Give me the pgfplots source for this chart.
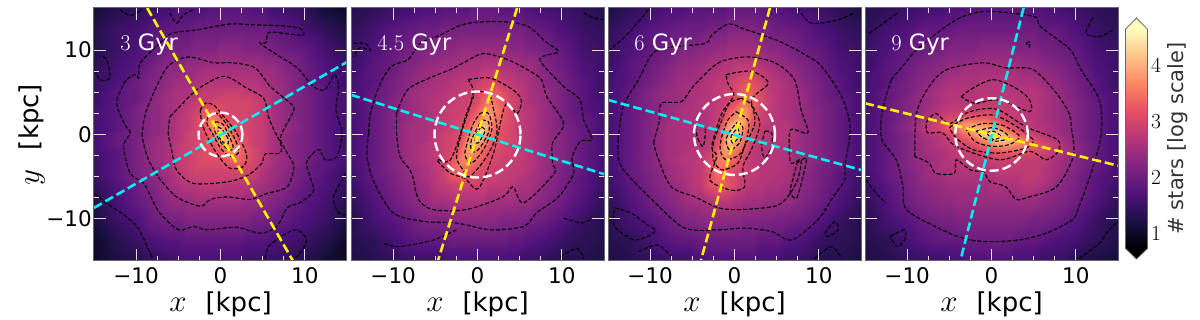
\RequirePackage{fix-cm}
\documentclass[border=0pt]{standalone}
\usepackage[no-math]{fontspec}
\setmainfont{DejaVu Sans}
\usepackage{pgfplots}
\usepackage{pgfplotstable}
\pgfplotsset{compat=1.18}
\newcommand\fs[1]{\fontsize{#1}{#1}\selectfont}
\definecolor{lineyellow}{rgb}{1,0.95,0}
\definecolor{linecyan}{rgb}{0,0.94,0.94}

% grid of the density maps (kpc), values are log10(# stars) x 10
\def\gx{{-15,-12.5,-10,-8,-6,-5,-4,-3,-2,-1.2,-0.6,0,0.6,1.2,2,3,4,5,6,8,10,12.5,15}}
\def\gy{{15,12.5,10,8,6,5,4,3,2,1.2,0.6,0,-0.6,-1.2,-2,-3,-4,-5,-6,-8,-10,-12.5,-15}}
\newcommand\addgrid[1]{%
  \pgfplotstablecreatecol[create col/assign/.code={%
    \pgfmathparse{\gx[int(mod(\pgfplotstablerow,23))]}%
    \pgfkeyslet{/pgfplots/table/create col/next content}\pgfmathresult}]{x}{#1}%
  \pgfplotstablecreatecol[create col/assign/.code={%
    \pgfmathparse{\gy[int(\pgfplotstablerow/23)]}%
    \pgfkeyslet{/pgfplots/table/create col/next content}\pgfmathresult}]{y}{#1}}

\pgfplotstableread[row sep=crcr]{z\\
11\\ 13\\ 14\\ 15\\ 16\\ 17\\ 17\\ 17\\ 17\\ 18\\ 18\\ 18\\ 18\\ 18\\ 18\\ 18\\ 17\\ 17\\ 16\\ 15\\ 14\\ 11\\ 10\\
13\\ 15\\ 16\\ 18\\ 19\\ 19\\ 19\\ 20\\ 20\\ 20\\ 20\\ 20\\ 20\\ 20\\ 20\\ 20\\ 20\\ 20\\ 19\\ 18\\ 16\\ 14\\ 12\\
13\\ 15\\ 17\\ 19\\ 21\\ 21\\ 21\\ 22\\ 22\\ 22\\ 22\\ 23\\ 23\\ 23\\ 23\\ 22\\ 22\\ 22\\ 21\\ 20\\ 19\\ 16\\ 14\\
14\\ 16\\ 18\\ 21\\ 23\\ 23\\ 24\\ 24\\ 25\\ 25\\ 25\\ 25\\ 25\\ 25\\ 25\\ 25\\ 25\\ 24\\ 24\\ 22\\ 20\\ 17\\ 15\\
15\\ 17\\ 20\\ 22\\ 24\\ 25\\ 25\\ 26\\ 27\\ 27\\ 27\\ 27\\ 27\\ 27\\ 27\\ 27\\ 27\\ 26\\ 25\\ 23\\ 20\\ 18\\ 15\\
15\\ 18\\ 20\\ 22\\ 25\\ 26\\ 26\\ 27\\ 28\\ 28\\ 28\\ 28\\ 29\\ 29\\ 29\\ 28\\ 28\\ 27\\ 26\\ 23\\ 21\\ 18\\ 16\\
15\\ 18\\ 20\\ 23\\ 25\\ 26\\ 27\\ 28\\ 29\\ 29\\ 30\\ 30\\ 30\\ 30\\ 30\\ 30\\ 29\\ 28\\ 26\\ 23\\ 21\\ 18\\ 16\\
16\\ 18\\ 21\\ 23\\ 25\\ 26\\ 28\\ 29\\ 31\\ 32\\ 32\\ 31\\ 30\\ 30\\ 30\\ 30\\ 29\\ 28\\ 26\\ 23\\ 21\\ 18\\ 16\\
16\\ 18\\ 21\\ 23\\ 25\\ 27\\ 28\\ 30\\ 33\\ 36\\ 35\\ 33\\ 32\\ 31\\ 30\\ 30\\ 29\\ 28\\ 26\\ 23\\ 21\\ 18\\ 16\\
16\\ 18\\ 21\\ 23\\ 25\\ 27\\ 28\\ 30\\ 32\\ 37\\ 39\\ 37\\ 34\\ 32\\ 31\\ 30\\ 29\\ 28\\ 26\\ 23\\ 21\\ 18\\ 16\\
16\\ 18\\ 21\\ 23\\ 25\\ 27\\ 28\\ 30\\ 31\\ 35\\ 39\\ 41\\ 37\\ 33\\ 31\\ 30\\ 29\\ 28\\ 26\\ 24\\ 21\\ 18\\ 16\\
16\\ 19\\ 21\\ 23\\ 25\\ 27\\ 29\\ 30\\ 31\\ 33\\ 37\\ 45\\ 40\\ 35\\ 32\\ 30\\ 29\\ 28\\ 26\\ 23\\ 21\\ 18\\ 15\\
16\\ 19\\ 21\\ 24\\ 26\\ 27\\ 29\\ 30\\ 31\\ 32\\ 34\\ 38\\ 41\\ 37\\ 32\\ 31\\ 29\\ 28\\ 26\\ 23\\ 21\\ 18\\ 15\\
16\\ 19\\ 21\\ 24\\ 26\\ 28\\ 29\\ 30\\ 31\\ 32\\ 32\\ 35\\ 39\\ 38\\ 34\\ 31\\ 29\\ 28\\ 26\\ 23\\ 21\\ 18\\ 15\\
16\\ 18\\ 21\\ 24\\ 26\\ 28\\ 29\\ 30\\ 31\\ 31\\ 32\\ 32\\ 35\\ 37\\ 35\\ 32\\ 30\\ 28\\ 26\\ 23\\ 21\\ 18\\ 16\\
15\\ 18\\ 21\\ 24\\ 26\\ 28\\ 29\\ 30\\ 31\\ 31\\ 31\\ 31\\ 32\\ 33\\ 34\\ 32\\ 30\\ 28\\ 26\\ 23\\ 21\\ 18\\ 16\\
15\\ 18\\ 21\\ 23\\ 26\\ 28\\ 29\\ 30\\ 30\\ 30\\ 30\\ 30\\ 30\\ 30\\ 31\\ 30\\ 29\\ 27\\ 25\\ 23\\ 20\\ 18\\ 15\\
15\\ 18\\ 21\\ 23\\ 25\\ 27\\ 28\\ 29\\ 29\\ 29\\ 29\\ 29\\ 29\\ 29\\ 29\\ 29\\ 28\\ 26\\ 25\\ 22\\ 20\\ 17\\ 15\\
14\\ 17\\ 20\\ 22\\ 25\\ 26\\ 27\\ 27\\ 28\\ 28\\ 28\\ 28\\ 27\\ 27\\ 27\\ 27\\ 26\\ 25\\ 24\\ 22\\ 19\\ 17\\ 14\\
13\\ 16\\ 19\\ 21\\ 23\\ 24\\ 24\\ 25\\ 25\\ 25\\ 25\\ 25\\ 25\\ 25\\ 25\\ 24\\ 24\\ 23\\ 22\\ 20\\ 18\\ 16\\ 13\\
12\\ 15\\ 17\\ 20\\ 21\\ 21\\ 22\\ 22\\ 22\\ 22\\ 22\\ 22\\ 22\\ 22\\ 22\\ 22\\ 21\\ 21\\ 20\\ 19\\ 17\\ 15\\ 12\\
10\\ 13\\ 15\\ 17\\ 18\\ 18\\ 19\\ 19\\ 19\\ 19\\ 19\\ 19\\ 19\\ 19\\ 19\\ 18\\ 18\\ 18\\ 17\\ 16\\ 15\\ 13\\ 10\\
10\\ 12\\ 13\\ 14\\ 15\\ 16\\ 16\\ 16\\ 16\\ 16\\ 16\\ 16\\ 16\\ 16\\ 16\\ 15\\ 15\\ 15\\ 15\\ 14\\ 13\\ 11\\ 10\\
}\mapA

\pgfplotstableread[row sep=crcr]{z\\
13\\ 14\\ 15\\ 16\\ 17\\ 17\\ 18\\ 18\\ 18\\ 18\\ 19\\ 19\\ 19\\ 19\\ 19\\ 18\\ 18\\ 18\\ 17\\ 16\\ 15\\ 14\\ 13\\
14\\ 16\\ 18\\ 19\\ 20\\ 20\\ 21\\ 21\\ 21\\ 21\\ 21\\ 21\\ 21\\ 21\\ 21\\ 21\\ 21\\ 21\\ 20\\ 19\\ 17\\ 15\\ 14\\
15\\ 17\\ 19\\ 21\\ 22\\ 22\\ 23\\ 23\\ 24\\ 24\\ 24\\ 24\\ 24\\ 24\\ 24\\ 24\\ 23\\ 23\\ 22\\ 21\\ 19\\ 16\\ 15\\
15\\ 18\\ 20\\ 22\\ 24\\ 24\\ 25\\ 25\\ 26\\ 26\\ 26\\ 26\\ 27\\ 27\\ 27\\ 26\\ 26\\ 25\\ 25\\ 22\\ 20\\ 17\\ 15\\
16\\ 18\\ 21\\ 23\\ 25\\ 26\\ 26\\ 27\\ 28\\ 28\\ 28\\ 29\\ 30\\ 30\\ 31\\ 29\\ 28\\ 27\\ 26\\ 23\\ 21\\ 18\\ 15\\
16\\ 19\\ 21\\ 24\\ 26\\ 26\\ 27\\ 28\\ 28\\ 29\\ 29\\ 30\\ 32\\ 33\\ 33\\ 31\\ 29\\ 28\\ 26\\ 24\\ 21\\ 18\\ 15\\
16\\ 19\\ 22\\ 24\\ 26\\ 27\\ 27\\ 28\\ 29\\ 29\\ 30\\ 31\\ 33\\ 35\\ 35\\ 32\\ 30\\ 28\\ 26\\ 24\\ 21\\ 18\\ 16\\
16\\ 19\\ 22\\ 24\\ 26\\ 27\\ 28\\ 29\\ 29\\ 30\\ 31\\ 33\\ 35\\ 37\\ 36\\ 33\\ 30\\ 28\\ 27\\ 24\\ 21\\ 18\\ 16\\
16\\ 19\\ 22\\ 24\\ 26\\ 27\\ 28\\ 29\\ 30\\ 31\\ 33\\ 35\\ 38\\ 39\\ 36\\ 32\\ 30\\ 28\\ 27\\ 24\\ 21\\ 19\\ 16\\
16\\ 19\\ 22\\ 25\\ 26\\ 27\\ 28\\ 29\\ 30\\ 32\\ 35\\ 38\\ 40\\ 39\\ 35\\ 32\\ 30\\ 28\\ 27\\ 24\\ 21\\ 19\\ 16\\
16\\ 19\\ 22\\ 25\\ 26\\ 27\\ 28\\ 29\\ 31\\ 33\\ 37\\ 41\\ 43\\ 38\\ 34\\ 31\\ 30\\ 28\\ 27\\ 24\\ 22\\ 19\\ 16\\
16\\ 19\\ 22\\ 25\\ 26\\ 28\\ 29\\ 30\\ 31\\ 34\\ 39\\ 45\\ 41\\ 36\\ 33\\ 31\\ 30\\ 28\\ 27\\ 24\\ 22\\ 19\\ 16\\
16\\ 19\\ 22\\ 25\\ 26\\ 28\\ 29\\ 30\\ 32\\ 36\\ 41\\ 42\\ 38\\ 35\\ 32\\ 31\\ 30\\ 28\\ 27\\ 24\\ 22\\ 19\\ 16\\
16\\ 19\\ 22\\ 25\\ 27\\ 28\\ 29\\ 30\\ 33\\ 38\\ 40\\ 38\\ 35\\ 33\\ 32\\ 30\\ 29\\ 28\\ 27\\ 24\\ 22\\ 19\\ 16\\
16\\ 19\\ 22\\ 25\\ 27\\ 28\\ 29\\ 31\\ 34\\ 38\\ 38\\ 36\\ 34\\ 32\\ 31\\ 30\\ 29\\ 28\\ 27\\ 24\\ 22\\ 19\\ 16\\
16\\ 19\\ 22\\ 25\\ 27\\ 28\\ 29\\ 32\\ 36\\ 36\\ 35\\ 34\\ 32\\ 31\\ 30\\ 29\\ 29\\ 28\\ 27\\ 24\\ 22\\ 19\\ 16\\
16\\ 19\\ 22\\ 24\\ 26\\ 28\\ 29\\ 33\\ 35\\ 34\\ 33\\ 32\\ 31\\ 30\\ 29\\ 29\\ 28\\ 28\\ 27\\ 24\\ 21\\ 19\\ 16\\
15\\ 19\\ 21\\ 24\\ 26\\ 27\\ 29\\ 32\\ 33\\ 32\\ 31\\ 30\\ 30\\ 29\\ 29\\ 28\\ 28\\ 27\\ 26\\ 24\\ 21\\ 18\\ 15\\
15\\ 18\\ 21\\ 23\\ 25\\ 27\\ 28\\ 29\\ 30\\ 29\\ 29\\ 29\\ 29\\ 28\\ 28\\ 28\\ 27\\ 26\\ 26\\ 23\\ 21\\ 18\\ 15\\
14\\ 17\\ 20\\ 22\\ 24\\ 25\\ 25\\ 26\\ 26\\ 26\\ 26\\ 26\\ 26\\ 25\\ 25\\ 25\\ 25\\ 24\\ 24\\ 22\\ 20\\ 17\\ 14\\
13\\ 16\\ 18\\ 20\\ 22\\ 22\\ 22\\ 23\\ 23\\ 23\\ 23\\ 23\\ 23\\ 23\\ 23\\ 22\\ 22\\ 22\\ 21\\ 20\\ 18\\ 15\\ 13\\
13\\ 14\\ 16\\ 18\\ 19\\ 19\\ 19\\ 20\\ 20\\ 20\\ 20\\ 20\\ 20\\ 20\\ 20\\ 20\\ 19\\ 19\\ 18\\ 17\\ 15\\ 14\\ 13\\
12\\ 13\\ 14\\ 15\\ 15\\ 15\\ 16\\ 16\\ 16\\ 16\\ 16\\ 16\\ 16\\ 16\\ 16\\ 16\\ 16\\ 15\\ 15\\ 14\\ 13\\ 13\\ 12\\
}\mapB

\pgfplotstableread[row sep=crcr]{z\\
12\\ 14\\ 15\\ 17\\ 17\\ 18\\ 18\\ 18\\ 18\\ 18\\ 19\\ 19\\ 19\\ 19\\ 19\\ 19\\ 18\\ 18\\ 17\\ 16\\ 15\\ 14\\ 12\\
14\\ 16\\ 18\\ 19\\ 20\\ 20\\ 20\\ 21\\ 21\\ 21\\ 22\\ 22\\ 22\\ 22\\ 22\\ 21\\ 21\\ 20\\ 20\\ 19\\ 17\\ 15\\ 14\\
15\\ 17\\ 19\\ 20\\ 22\\ 22\\ 23\\ 23\\ 24\\ 24\\ 25\\ 25\\ 25\\ 25\\ 25\\ 24\\ 23\\ 23\\ 22\\ 20\\ 19\\ 16\\ 15\\
15\\ 18\\ 20\\ 22\\ 24\\ 24\\ 25\\ 26\\ 26\\ 27\\ 27\\ 28\\ 28\\ 28\\ 28\\ 27\\ 26\\ 25\\ 24\\ 22\\ 20\\ 17\\ 15\\
16\\ 18\\ 21\\ 23\\ 25\\ 25\\ 26\\ 27\\ 28\\ 28\\ 29\\ 30\\ 31\\ 32\\ 32\\ 30\\ 28\\ 27\\ 26\\ 23\\ 21\\ 18\\ 15\\
16\\ 19\\ 22\\ 24\\ 25\\ 26\\ 26\\ 27\\ 28\\ 29\\ 29\\ 30\\ 32\\ 33\\ 33\\ 31\\ 28\\ 27\\ 26\\ 24\\ 21\\ 18\\ 16\\
16\\ 19\\ 22\\ 24\\ 25\\ 26\\ 27\\ 27\\ 28\\ 29\\ 30\\ 31\\ 33\\ 34\\ 33\\ 31\\ 29\\ 27\\ 26\\ 24\\ 21\\ 19\\ 16\\
16\\ 19\\ 22\\ 24\\ 26\\ 26\\ 27\\ 27\\ 28\\ 30\\ 32\\ 34\\ 36\\ 37\\ 34\\ 30\\ 28\\ 27\\ 26\\ 24\\ 22\\ 19\\ 16\\
16\\ 19\\ 22\\ 24\\ 26\\ 26\\ 26\\ 27\\ 29\\ 32\\ 35\\ 37\\ 39\\ 38\\ 33\\ 29\\ 28\\ 27\\ 26\\ 24\\ 22\\ 19\\ 16\\
16\\ 19\\ 22\\ 25\\ 26\\ 26\\ 26\\ 27\\ 29\\ 34\\ 38\\ 41\\ 41\\ 37\\ 32\\ 29\\ 27\\ 27\\ 27\\ 24\\ 22\\ 19\\ 16\\
16\\ 19\\ 22\\ 25\\ 26\\ 26\\ 26\\ 27\\ 30\\ 36\\ 40\\ 43\\ 41\\ 36\\ 31\\ 28\\ 27\\ 27\\ 27\\ 24\\ 22\\ 19\\ 16\\
16\\ 19\\ 22\\ 25\\ 26\\ 26\\ 27\\ 27\\ 30\\ 37\\ 41\\ 45\\ 39\\ 35\\ 31\\ 28\\ 27\\ 27\\ 27\\ 24\\ 22\\ 19\\ 16\\
16\\ 19\\ 22\\ 25\\ 26\\ 26\\ 27\\ 28\\ 31\\ 38\\ 42\\ 41\\ 37\\ 34\\ 30\\ 28\\ 27\\ 27\\ 27\\ 24\\ 22\\ 19\\ 16\\
16\\ 19\\ 22\\ 25\\ 26\\ 27\\ 27\\ 28\\ 32\\ 38\\ 40\\ 38\\ 35\\ 32\\ 29\\ 27\\ 27\\ 27\\ 26\\ 24\\ 22\\ 19\\ 16\\
16\\ 19\\ 22\\ 25\\ 26\\ 27\\ 27\\ 29\\ 34\\ 38\\ 37\\ 35\\ 33\\ 31\\ 28\\ 27\\ 27\\ 27\\ 26\\ 24\\ 22\\ 19\\ 16\\
16\\ 19\\ 22\\ 25\\ 27\\ 27\\ 28\\ 30\\ 35\\ 36\\ 34\\ 33\\ 31\\ 29\\ 28\\ 27\\ 27\\ 27\\ 26\\ 24\\ 22\\ 19\\ 16\\
16\\ 19\\ 22\\ 24\\ 26\\ 27\\ 28\\ 31\\ 35\\ 34\\ 32\\ 31\\ 30\\ 29\\ 28\\ 27\\ 27\\ 27\\ 26\\ 24\\ 21\\ 19\\ 16\\
15\\ 19\\ 21\\ 24\\ 26\\ 27\\ 28\\ 31\\ 34\\ 33\\ 31\\ 30\\ 29\\ 28\\ 28\\ 27\\ 27\\ 26\\ 26\\ 23\\ 21\\ 18\\ 15\\
15\\ 18\\ 21\\ 23\\ 25\\ 27\\ 28\\ 31\\ 33\\ 33\\ 32\\ 30\\ 29\\ 28\\ 27\\ 27\\ 26\\ 26\\ 25\\ 23\\ 21\\ 18\\ 15\\
14\\ 17\\ 20\\ 22\\ 24\\ 25\\ 25\\ 26\\ 27\\ 27\\ 27\\ 26\\ 26\\ 25\\ 25\\ 25\\ 24\\ 24\\ 24\\ 22\\ 20\\ 17\\ 14\\
13\\ 16\\ 18\\ 20\\ 22\\ 22\\ 23\\ 23\\ 23\\ 23\\ 23\\ 23\\ 23\\ 22\\ 22\\ 22\\ 22\\ 21\\ 21\\ 20\\ 18\\ 15\\ 13\\
13\\ 14\\ 16\\ 18\\ 19\\ 19\\ 20\\ 20\\ 20\\ 20\\ 20\\ 20\\ 20\\ 20\\ 20\\ 19\\ 19\\ 19\\ 18\\ 17\\ 15\\ 14\\ 13\\
12\\ 13\\ 14\\ 15\\ 15\\ 16\\ 16\\ 17\\ 17\\ 17\\ 17\\ 17\\ 17\\ 17\\ 17\\ 16\\ 16\\ 16\\ 15\\ 15\\ 13\\ 13\\ 12\\
}\mapC

\pgfplotstableread[row sep=crcr]{z\\
13\\ 14\\ 15\\ 16\\ 16\\ 17\\ 17\\ 17\\ 18\\ 18\\ 18\\ 18\\ 18\\ 18\\ 18\\ 18\\ 18\\ 17\\ 17\\ 16\\ 15\\ 14\\ 13\\
14\\ 16\\ 17\\ 19\\ 19\\ 19\\ 20\\ 20\\ 20\\ 20\\ 20\\ 20\\ 20\\ 20\\ 20\\ 20\\ 20\\ 20\\ 19\\ 19\\ 17\\ 15\\ 14\\
15\\ 17\\ 19\\ 20\\ 21\\ 22\\ 22\\ 22\\ 22\\ 23\\ 23\\ 23\\ 23\\ 23\\ 23\\ 22\\ 22\\ 22\\ 21\\ 20\\ 19\\ 16\\ 15\\
15\\ 18\\ 20\\ 22\\ 23\\ 24\\ 24\\ 25\\ 25\\ 25\\ 25\\ 25\\ 25\\ 25\\ 25\\ 25\\ 24\\ 24\\ 23\\ 22\\ 20\\ 17\\ 15\\
16\\ 18\\ 21\\ 23\\ 25\\ 26\\ 26\\ 26\\ 26\\ 27\\ 27\\ 27\\ 27\\ 27\\ 27\\ 26\\ 26\\ 26\\ 25\\ 23\\ 21\\ 18\\ 15\\
16\\ 19\\ 21\\ 24\\ 26\\ 27\\ 27\\ 27\\ 27\\ 27\\ 27\\ 27\\ 27\\ 27\\ 27\\ 27\\ 27\\ 27\\ 26\\ 24\\ 21\\ 18\\ 16\\
16\\ 19\\ 22\\ 24\\ 26\\ 27\\ 27\\ 27\\ 27\\ 28\\ 28\\ 28\\ 28\\ 28\\ 28\\ 27\\ 27\\ 27\\ 26\\ 24\\ 22\\ 19\\ 16\\
16\\ 19\\ 22\\ 24\\ 27\\ 28\\ 28\\ 28\\ 28\\ 29\\ 29\\ 29\\ 29\\ 29\\ 28\\ 28\\ 27\\ 27\\ 26\\ 24\\ 22\\ 19\\ 16\\
16\\ 19\\ 22\\ 25\\ 29\\ 30\\ 31\\ 33\\ 33\\ 33\\ 33\\ 32\\ 31\\ 30\\ 29\\ 28\\ 27\\ 27\\ 26\\ 24\\ 22\\ 19\\ 16\\
16\\ 19\\ 23\\ 27\\ 30\\ 33\\ 36\\ 38\\ 38\\ 38\\ 37\\ 36\\ 35\\ 33\\ 31\\ 29\\ 28\\ 27\\ 26\\ 24\\ 22\\ 19\\ 16\\
16\\ 19\\ 23\\ 27\\ 30\\ 32\\ 35\\ 38\\ 41\\ 41\\ 41\\ 41\\ 39\\ 37\\ 33\\ 30\\ 28\\ 27\\ 27\\ 24\\ 22\\ 19\\ 16\\
16\\ 19\\ 22\\ 26\\ 28\\ 30\\ 32\\ 35\\ 38\\ 41\\ 43\\ 46\\ 44\\ 41\\ 38\\ 34\\ 31\\ 29\\ 27\\ 25\\ 22\\ 19\\ 16\\
16\\ 19\\ 22\\ 25\\ 27\\ 28\\ 30\\ 32\\ 34\\ 36\\ 38\\ 41\\ 42\\ 42\\ 41\\ 38\\ 35\\ 31\\ 29\\ 26\\ 22\\ 19\\ 16\\
16\\ 19\\ 22\\ 25\\ 27\\ 28\\ 29\\ 30\\ 31\\ 33\\ 34\\ 36\\ 38\\ 38\\ 38\\ 37\\ 35\\ 33\\ 31\\ 27\\ 23\\ 19\\ 16\\
16\\ 19\\ 22\\ 25\\ 26\\ 27\\ 28\\ 29\\ 29\\ 30\\ 31\\ 31\\ 32\\ 33\\ 33\\ 33\\ 31\\ 31\\ 30\\ 27\\ 23\\ 19\\ 16\\
16\\ 19\\ 22\\ 24\\ 26\\ 27\\ 27\\ 28\\ 28\\ 28\\ 28\\ 29\\ 29\\ 29\\ 29\\ 29\\ 28\\ 28\\ 28\\ 25\\ 22\\ 19\\ 16\\
16\\ 19\\ 22\\ 24\\ 26\\ 26\\ 27\\ 27\\ 27\\ 27\\ 27\\ 27\\ 28\\ 28\\ 28\\ 28\\ 28\\ 28\\ 27\\ 25\\ 22\\ 19\\ 16\\
15\\ 19\\ 21\\ 24\\ 25\\ 26\\ 26\\ 26\\ 26\\ 26\\ 26\\ 26\\ 27\\ 27\\ 27\\ 27\\ 28\\ 28\\ 27\\ 24\\ 21\\ 18\\ 16\\
15\\ 18\\ 21\\ 23\\ 24\\ 25\\ 25\\ 25\\ 25\\ 25\\ 25\\ 26\\ 26\\ 26\\ 26\\ 26\\ 27\\ 27\\ 26\\ 23\\ 21\\ 18\\ 15\\
14\\ 17\\ 20\\ 22\\ 23\\ 23\\ 24\\ 24\\ 24\\ 24\\ 24\\ 24\\ 24\\ 24\\ 24\\ 24\\ 24\\ 24\\ 23\\ 22\\ 20\\ 17\\ 14\\
13\\ 16\\ 18\\ 20\\ 21\\ 21\\ 22\\ 22\\ 22\\ 22\\ 22\\ 22\\ 22\\ 22\\ 22\\ 22\\ 22\\ 21\\ 21\\ 20\\ 18\\ 15\\ 13\\
13\\ 14\\ 16\\ 18\\ 19\\ 19\\ 19\\ 20\\ 20\\ 20\\ 20\\ 20\\ 20\\ 20\\ 20\\ 19\\ 19\\ 19\\ 18\\ 17\\ 16\\ 14\\ 13\\
12\\ 13\\ 14\\ 15\\ 15\\ 16\\ 16\\ 17\\ 17\\ 17\\ 17\\ 17\\ 17\\ 17\\ 17\\ 16\\ 16\\ 16\\ 15\\ 15\\ 13\\ 12\\ 11\\
}\mapD

\addgrid{\mapA}
\addgrid{\mapB}
\addgrid{\mapC}
\addgrid{\mapD}

\tikzset{ring/.style={white, line width=2.4pt, dash pattern=on 9pt off 4pt}}
\pgfplotsset{
  colormap={mgm}{
    rgb255=(0,0,4) rgb255=(28,16,68) rgb255=(79,18,123) rgb255=(129,37,129)
    rgb255=(181,54,122) rgb255=(229,80,100) rgb255=(251,135,97) rgb255=(254,194,135)
    rgb255=(252,253,191)},
  panel/.style={
    scale only axis, width=253pt, height=253pt,
    anchor=south west,
    xmin=-15, xmax=15, ymin=-15, ymax=15,
    colormap name=mgm, point meta min=7.3, point meta max=46.4,
    axis on top,
    axis line style={black!60, line width=1pt},
    xtick={-10,0,10}, xticklabels={−10,0,10},
    ytick={-10,0,10}, yticklabels={},
    minor tick num=3,
    tick align=inside,
    major tick length=12pt, minor tick length=5pt,
    every tick/.style={white, opacity=0.85, line width=1pt},
    tick label style={font=\fs{21.5}, inner sep=2pt},
    xticklabel style={yshift=-4pt},
    xlabel={{\fs{31}$x$}\hspace{19pt}[kpc]},
    xlabel style={font=\fs{26}, yshift=-3pt},
  },
  heat/.style={surf, shader=interp, mesh/cols=23, mesh/ordering=x varies, point meta=explicit},
  cont/.style={black, line width=1.1pt, dash pattern=on 4pt off 2pt, smooth, tension=0.5},
  axisline/.style={line width=2.6pt, dash pattern=on 9pt off 4pt},
}
\newcommand\plab[1]{\node[white, anchor=west, font=\fs{22.5}, inner sep=0pt] at (axis cs:-11.9,10.7) {#1};}

\begin{document}
\begin{tikzpicture}
\path[use as bounding box] (0,0) rectangle (1200pt,320pt);

% 3 Gyr
\begin{axis}[panel, at={(94pt,59pt)},
  yticklabels={−10,0,10}, ylabel={{\fs{31}$y$}\hspace{19pt}[kpc]},
  ylabel style={font=\fs{26}, yshift=-4pt}]
\addplot[heat] table[x=x, y=y, meta=z] {\mapA};
\addplot[cont] coordinates {(-7.2,10.8)(-5.8,12)(-2.8,12.4)(1.1,13.1)(3.9,13)(7.1,12.9)(9.4,12.6)(9.8,11.8)(7.5,12)(5.7,12.1)(5.4,10.9)(4.7,10.8)(7.1,9.2)(9.1,7.9)(11,5.7)(12.4,5.3)(13.5,7.1)(14,5.7)(13.7,2.9)(14.4,0.2)(13.8,-2.6)(12.4,-3)(11.8,-1.8)(11,-2.2)(10.2,-3.4)(10.8,-5.6)(11,-6.8)(9.4,-8.1)(7.9,-8.7)(6.7,-10.9)(4.7,-11.7)(1.9,-11)(-1.6,-11.3)(-3.2,-10.9)(-5,-11.3)(-7.2,-9.3)(-8.1,-7.7)(-9.1,-5.8)(-10.7,-4.6)(-11.5,-1.4)(-10.7,0.2)(-11.3,1.1)(-12.3,3.7)(-11.3,6.3)(-10.1,7.1)(-9.7,6.7)(-9.5,8.5)(-7.2,10.8)};
\addplot[cont] coordinates {(-9.3,-0.2)(-8.9,2.5)(-7.2,6.5)(-6,8.3)(-3.8,9.2)(-0.8,8.5)(1.5,8.5)(4.1,7.9)(5.9,5.7)(8.3,3.7)(8.7,2.9)(7.5,0.6)(7.1,-0.6)(7.9,-2.2)(8.7,-3.8)(7.9,-6.2)(5.5,-7)(3.5,-7.7)(0.8,-7.4)(-1.2,-7.7)(-2.4,-8.5)(-5.2,-7.4)(-7.4,-5)(-8.7,-2.6)(-9.3,-0.2)};
\addplot[cont] coordinates {(-6,2.1)(-5.6,2.5)(-2.8,5.3)(0.4,6.9)(3.1,5.5)(5.1,4.3)(5.7,2.1)(6.3,0.6)(7.1,-1)(7.1,-2.2)(5.3,-2.3)(4.9,-3.4)(3.3,-4.8)(0.9,-5.6)(-3.2,-5.8)(-5.2,-4.2)(-5.8,-1.8)(-6.2,0.2)(-6,2.1)};
\addplot[cont] coordinates {(-2.4,2.9)(-1.8,3.7)(-0.8,3.5)(0.4,2.1)(1.9,0.2)(3.1,-2.4)(2.7,-3.8)(1.1,-4)(-0.2,-2.6)(-1.4,-0.6)(-2.2,1.3)(-2.4,2.9)};
\addplot[cont] coordinates {(-1.4,2.3)(-0.4,2.5)(0.8,1.1)(1.9,-1)(2.1,-2.2)(1.1,-2.6)(0,-1.6)(-1,0.2)(-1.6,1.3)(-1.4,2.3)};
\addplot[cont] coordinates {(-0.6,1.5)(0.3,1.2)(1.3,-0.8)(1.5,-1.7)(0.9,-1.8)(0,-0.9)(-0.7,0.5)(-0.6,1.5)};
\addplot[cont] coordinates {(-0.3,0.9)(0.2,0.6)(0.9,-0.5)(0.9,-1.1)(0.4,-1)(-0.2,-0.2)(-0.3,0.9)};
\addplot[cont] coordinates {(-14.9,7.7)(-14.3,6.5)(-13.1,6.7)(-13.5,8.9)(-14.3,9.3)};
\addplot[cont] coordinates {(-11.9,14.8)(-10.7,14.1)(-9.3,14.8)};
\addplot[cont] coordinates {(-6,14.4)(-5.2,13.2)(-4.4,14.2)(-3.2,14.8)};
\addplot[cont] coordinates {(5.3,-14.7)(5.7,-13.3)(7.5,-11.9)(9.1,-11.3)(10.2,-12.5)(9.4,-14.1)(8.7,-14.7)};
\addplot[cont] coordinates {(-14.9,-7)(-13,-8.5)(-11.5,-9.5)(-9.9,-10.9)(-9,-12.6)(-8,-14.8)};
\addplot[cont] coordinates {(14.9,-4.6)(13.4,-7.4)(14,-9.3)(14.9,-9.5)};
\addplot[axisline, lineyellow] coordinates {(-8.7,15)(8.6,-15)};
\addplot[axisline, linecyan] coordinates {(-15,-8.7)(15,8.6)};
\draw[ring] (axis cs:0,0) circle[radius=2.6];
\plab{$3$ Gyr}
\end{axis}

% 4.5 Gyr
\begin{axis}[panel, at={(351pt,59pt)}]
\addplot[heat] table[x=x, y=y, meta=z] {\mapB};
\addplot[cont] coordinates {(-12.9,0.2)(-12.7,2.5)(-11.6,5.9)(-10.2,8.1)(-8.2,8.9)(-6.8,10.8)(-4.4,11.8)(-1.5,13.1)(2.3,13.4)(5.8,12.9)(8.2,10.9)(9.6,9.8)(7.4,8.9)(10.2,5.7)(12.1,4.2)(12.6,1.7)(13.6,-0.6)(12.2,-0.8)(11.2,-2.8)(11.4,-4.6)(9.6,-7.4)(7,-9.3)(5.5,-10.9)(1.5,-11.3)(-2.5,-10.5)(-6.4,-10.3)(-10,-9.3)(-12.3,-5.6)(-13.1,-2.6)(-12.9,0.2)};
\addplot[cont] coordinates {(-9.6,2.5)(-8.3,5.3)(-5.7,6.7)(-3.2,7.7)(-1.3,8.7)(0.7,9.6)(3.5,8.9)(5.9,7.7)(7.6,6.5)(8.2,4.5)(10.2,1.3)(8.9,-1)(8.9,-3.4)(9.1,-4.6)(5.5,-8.1)(4.2,-6.2)(3,-7.4)(-1.3,-8.9)(-5.3,-8.9)(-7,-7.7)(-7.6,-5.3)(-8,-4.2)(-9.2,-2.6)(-9.6,0.2)(-9.6,2.5)};
\addplot[cont] coordinates {(-1.1,6.5)(1.5,6.7)(4.2,5.3)(5.2,4.1)(4.7,2.5)(3.3,3.5)(1.9,-2.2)(0.1,-6.4)(-1.5,-5.2)(-3.2,-4.6)(-4.8,-3)(-3.4,-3.2)(-2.5,-1.4)(-1.3,2.5)(-0.4,4.9)(-1.1,6.5)};
\addplot[cont] coordinates {(-0.5,5.1)(1.3,4.9)(1.9,3)(2.3,0.2)(1.1,-2.6)(-0.9,-5)(-1.7,-4.2)(-2.5,-2.6)(-1.7,0.9)(-0.9,3.3)(-0.5,5.1)};
\addplot[cont] coordinates {(0.3,2.5)(1.3,2.5)(1.7,0.6)(0.7,-1.8)(-0.7,-3.4)(-1.5,-2.4)(-1.1,-0.6)(-0.5,1.3)(0.3,2.5)};
\addplot[cont] coordinates {(0.5,1.7)(1.3,1.5)(1.3,0.2)(0.1,-1.8)(-0.7,-2)(-0.7,-0.6)(0.5,1.7)};
\addplot[cont] coordinates {(0.5,0.9)(0.9,0.4)(0.1,-1)(-0.3,-0.8)(-0.1,0.2)(0.5,0.9)};
\addplot[cont] coordinates {(-14.7,10.8)(-13.3,10.8)(-12.7,10)(-13.9,10.3)(-14.7,9.2)};
\addplot[cont] coordinates {(-11.1,-12.9)(-9.2,-13.3)(-5.2,-12.5)(-2.5,-11.3)};
\addplot[cont] coordinates {(12.6,14.4)(13.8,13.8)(14.9,13.6)};
\addplot[cont] coordinates {(10.2,-9.9)(12.2,-10.5)(13.4,-10.1)};
\addplot[cont] coordinates {(9.8,-14.5)(11.8,-13.5)(12.6,-14.7)};
\addplot[axisline, lineyellow] coordinates {(4.7,15)(-4.7,-15)};
\addplot[axisline, linecyan] coordinates {(-15,4.7)(15,-4.7)};
\draw[ring] (axis cs:0,0) circle[radius=5.1];
\plab{$4.5$ Gyr}
\end{axis}

% 6 Gyr
\begin{axis}[panel, at={(608pt,59pt)}]
\addplot[heat] table[x=x, y=y, meta=z] {\mapC};
\addplot[cont] coordinates {(-13.8,-0.6)(-13.2,3.3)(-11.4,6.5)(-9.8,9.5)(-8,10.3)(-3.5,10.8)(-2.7,11.8)(-0.7,13.1)(1.2,12.5)(5.2,11.1)(8.3,9.5)(10.3,8.1)(12.7,4.5)(13.7,0.9)(13.1,-3.8)(13.1,-5.3)(11.5,-7.7)(9.9,-10.1)(6.8,-12.5)(4.4,-11.5)(1.2,-11.1)(-1.9,-11.3)(-5.9,-11.1)(-9.4,-8.1)(-13,-4.4)(-13.8,-2.6)(-13.8,-0.6)};
\addplot[cont] coordinates {(-9.6,-1)(-8.9,1.7)(-8.7,3.7)(-6.3,3.9)(-4.9,5.7)(-1.9,8.5)(1.6,9.2)(4.8,8.5)(7.1,6.5)(7.9,2.9)(8.7,0.2)(6.7,0.6)(6.5,-1.4)(6.7,-3.4)(7.9,-3)(7.5,-5.3)(6.3,-7.4)(4.8,-8.5)(0.8,-8.9)(-1.9,-8.7)(-4.7,-7.4)(-7.5,-6.2)(-9,-3)(-9.6,-1)};
\addplot[cont] coordinates {(-1,7.1)(2,7.5)(4,6.1)(2,4.1)(3,1.3)(2,-1.8)(1,-3.8)(1.2,-6.2)(-0.4,-6.6)(-2.9,-5.4)(-2.1,-2.6)(-2.7,-1.4)(-1.5,2.5)(-0.1,4.6)(-0.8,6.1)(-1,7.1)};
\addplot[cont] coordinates {(0.8,4.3)(2,3.5)(2.4,1.3)(1.2,-1.4)(0.4,-3.4)(-1.5,-4.2)(-2.5,-3)(-2.5,-1)(-1.5,1.7)(-0.6,3.7)(0.8,4.3)};
\addplot[cont] coordinates {(0.2,2.7)(1.6,1.7)(1.6,0.2)(0.8,-2.2)(-1,-3)(-1.7,-1.8)(-1.5,-0.2)(-0.8,1.7)(0.2,2.7)};
\addplot[cont] coordinates {(0.4,1.5)(1,0.8)(0.6,-1)(-0.6,-1.8)(-1,-0.6)(-0.4,0.6)(0.4,1.5)};
\addplot[cont] coordinates {(0.4,0.8)(0.6,-0.2)(-0.2,-1)(-0.4,-0.2)(0.4,0.8)};
\addplot[cont] coordinates {(3.6,0.4)(4.4,0.2)(4.4,-1.4)(3.6,-2.8)(3.2,-1.4)(3.6,0.4)};
\addplot[cont] coordinates {(-4.7,1.1)(-3.5,0.8)(-3.7,-1.4)(-4.3,-0.6)(-4.7,1.1)};
\addplot[cont] coordinates {(7.4,-3.4)(8.5,-2.8)(8.3,-4.2)(7.4,-7.5)(6.6,-6.8)(7,-5)(7.4,-3.4)};
\addplot[cont] coordinates {(-14.2,-8.7)(-12.3,-9.3)(-10.6,-10.5)(-9.4,-11.5)(-11.8,-12.5)(-14.2,-10.9)(-14.2,-8.7)};
\addplot[cont] coordinates {(10.7,-11.7)(11.9,-10.3)(12.3,-11.3)(11.1,-12.1)(10.7,-11.7)};
\addplot[cont] coordinates {(-10.2,14.8)(-12.6,12)(-14.8,10)};
\addplot[cont] coordinates {(7.5,15)(9.1,13.2)(12.3,13.6)(14.1,14.4)};
\addplot[cont] coordinates {(9.5,-14.7)(11.5,-13.3)(12.7,-14.7)};
\addplot[cont] coordinates {(-11.4,-13.9)(-9.1,-13.1)(-7.5,-14.5)};
\addplot[axisline, lineyellow] coordinates {(4.2,15)(-4,-15)};
\addplot[axisline, linecyan] coordinates {(-15,4.1)(15,-4.2)};
\draw[ring] (axis cs:0,0) circle[radius=4.8];
\plab{$6$ Gyr}
\end{axis}

% 9 Gyr
\begin{axis}[panel, at={(865pt,59pt)}]
\addplot[heat] table[x=x, y=y, meta=z] {\mapD};
\addplot[cont] coordinates {(-11.9,6.5)(-10.3,8.4)(-9,9.9)(-6.5,12)(-3.8,13.8)(-0.6,14.6)(5,14)(5.8,12.8)(9.3,10.1)(10.6,7.7)(12.8,4.1)(13,0)(12,-4)(10.4,-8.5)(9.6,-10.1)(6.5,-11.7)(3.3,-12.5)(-0.6,-12.7)(-3.4,-12.3)(-6.5,-11)(-10.1,-8.9)(-10.5,-6.2)(-11.3,-3)(-13,-0.6)(-13,2.5)(-11.9,6.5)};
\addplot[cont] coordinates {(-9.1,-2.6)(-8.9,2.5)(-7.4,5.7)(-5.3,7.7)(-1,8.5)(1.7,7.9)(4.9,7.7)(7.7,4.9)(9.2,2.5)(9.5,0.6)(9.7,-2.6)(7.7,-6.2)(4.5,-7.4)(2.9,-7.7)(1.7,-6.2)(-0.2,-5.6)(-0.9,-4.5)(-2.5,-4.2)(-4.2,-3)(-4.4,-4.6)(-6.6,-4.6)(-7.4,-3.4)(-9.1,-2.6)};
\addplot[cont] coordinates {(-3.6,4.5)(-2.2,5.5)(0.2,6.5)(2.9,5.5)(4.5,4.1)(4.5,2.7)(0.9,4.1)(-2,3.7)(-3.6,4.5)};
\addplot[cont] coordinates {(-7.7,1.5)(-6.6,2.5)(-5,1.3)(-2.6,2.7)(0.6,3)(4.1,0.9)(7.8,-0.6)(7.9,-2)(6.5,-3)(4.5,-2)(0.9,-3)(-4.2,-1.4)(-5.8,0.2)(-7.6,0.2)(-7.7,1.5)};
\addplot[cont] coordinates {(-5,0.8)(-3,1.9)(0.2,2.3)(2.9,1)(4.9,-0.6)(4.1,-1.6)(0.9,-2.2)(-2.2,-1.8)(-4.2,-0.4)(-5,0.8)};
\addplot[cont] coordinates {(-3,0.6)(-1,1.3)(1.3,1.1)(3.3,-0.2)(2.1,-1.2)(0,-1.4)(-2,-0.8)(-3,0.6)};
\addplot[cont] coordinates {(-1.8,0.4)(0,0.8)(1.3,0.4)(2.1,-0.4)(0.6,-0.8)(-1,-0.4)(-1.8,0.4)};
\addplot[cont] coordinates {(-0.6,0.2)(0.2,0.4)(1.1,-0.2)(0.2,-0.6)(-0.6,0.2)};
\addplot[cont] coordinates {(-12,-12.1)(-10.3,-11.3)(-10.3,-12.5)(-11.2,-13.3)(-12,-12.1)};
\addplot[cont] coordinates {(-14.9,-5.4)(-13.3,-7.4)(-12.5,-8.1)};
\addplot[cont] coordinates {(12,13.8)(11.2,12)(12.8,11.6)(14.4,12.4)};
\addplot[cont] coordinates {(4.1,10.8)(4.5,11)(4.5,10.4)(4.1,10.8)};
\addplot[cont] coordinates {(10.4,-14.7)(12.8,-12.9)(13.6,-11.7)(14.8,-10.5)};
\addplot[cont] coordinates {(-14.5,12)(-11,14.5)};
\addplot[axisline, lineyellow] coordinates {(-15,3.7)(15,-3.7)};
\addplot[axisline, linecyan] coordinates {(3.8,15)(-3.7,-15)};
\draw[ring] (axis cs:0,0) circle[radius=4.3];
\plab{$9$ Gyr}
\end{axis}

% colour bar
\begin{axis}[scale only axis, width=22pt, height=241pt, anchor=south west, at={(1125.5pt,61pt)},
  xmin=0, xmax=1, ymin=0.54, ymax=4.84,
  colormap name=mgm, point meta min=0.73, point meta max=4.64,
  hide x axis, axis y line*=right,
  axis line style={draw=none},
  ytick={1,2,3,4}, tick align=inside,
  major tick length=4pt,
  every tick/.style={white, line width=0.8pt},
  tick label style={font=\fs{21.5}},
  ylabel={\# stars [log scale]},
  ylabel style={font=\fs{21}, text=black!80},
  clip=false]
\addplot[surf, shader=interp, mesh/cols=2, mesh/ordering=x varies, point meta=y] coordinates {
  (0,0.73)(1,0.73)
  (0,1.5)(1,1.5)
  (0,2.5)(1,2.5)
  (0,3.5)(1,3.5)
  (0,4.64)(1,4.64)};
\addplot[fill={rgb,255:red,0;green,0;blue,4}, draw=none] coordinates {(0,0.73)(0.5,0.54)(1,0.73)} --cycle;
\addplot[fill={rgb,255:red,252;green,253;blue,191}, draw=none] coordinates {(0,4.64)(0.5,4.84)(1,4.64)} --cycle;
\addplot[black!60, line width=0.8pt] coordinates {(0,0.73)(0.5,0.54)(1,0.73)(1,4.64)(0.5,4.84)(0,4.64)(0,0.73)};
\end{axis}
\end{tikzpicture}
\end{document}
